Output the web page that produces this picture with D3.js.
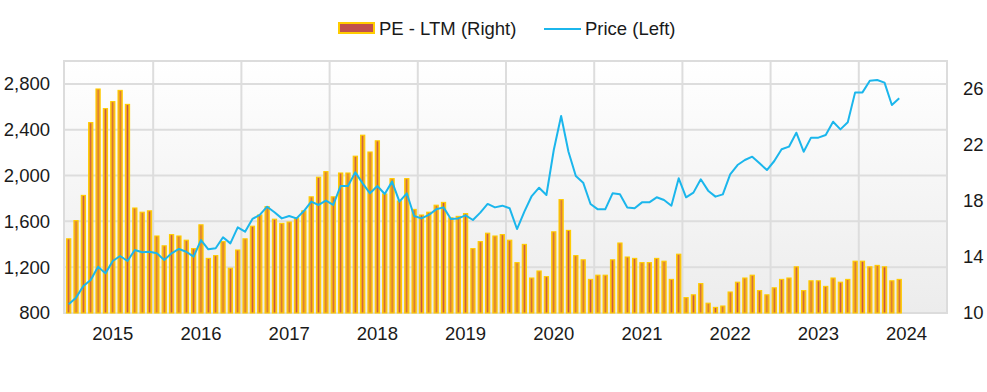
<!DOCTYPE html>
<html><head><meta charset="utf-8">
<script src="https://cdn.jsdelivr.net/npm/d3@7"></script>
<style>
html,body{margin:0;padding:0;background:#fff;}
text{font-family:"Liberation Sans",Arial,sans-serif;}
</style></head>
<body><svg id="chart" width="987" height="392"></svg>
<script>
// ---- data ----
const startMonth = new Date(2014, 6, 1);   // Jul 2014
const endMonth = new Date(2024, 6, 1);     // axis runs to Jun 2024
const yearLabels = ["2015","2016","2017","2018","2019","2020","2021","2022","2023","2024"];
const leftTicks = [800, 1200, 1600, 2000, 2400, 2800];
const rightTicks = [10, 14, 18, 22, 26];
const peLTM = [
 15.3,16.6,18.4,23.6,26.0,24.6,25.1,25.9,24.9,17.5,
 17.2,17.3,15.5,14.8,15.6,15.5,15.2,14.6,16.3,13.9,
 14.1,15.1,13.2,14.5,15.3,16.2,17.0,17.6,16.7,16.4,
 16.5,16.8,17.3,18.3,19.7,20.1,18.3,20.0,20.0,21.2,
 22.7,21.5,22.3,18.5,19.6,18.0,19.6,17.4,17.0,17.2,
 17.7,17.9,16.8,16.9,17.1,14.6,15.1,15.7,15.5,15.6,
 15.2,13.6,14.9,12.5,13.0,12.6,15.8,18.1,15.9,14.1,
 13.8,12.4,12.7,12.7,13.8,15.0,14.0,13.9,13.6,13.6,
 13.9,13.7,12.4,14.2,11.1,11.3,12.1,10.7,10.4,10.5,
 11.5,12.2,12.5,12.7,11.6,11.3,11.8,12.4,12.5,13.3,
 11.6,12.3,12.3,11.9,12.5,12.2,12.4,13.7,13.7,13.3,
 13.4,13.3,12.3,12.4];
const price = [
 876,934,1036,1088,1204,1146,1254,1298,1254,1350,
 1330,1335,1321,1263,1321,1359,1335,1292,1437,1356,
 1365,1461,1408,1548,1510,1621,1656,1728,1680,1626,
 1647,1626,1690,1772,1743,1781,1743,1909,1909,2028,
 1932,1845,1909,1839,1947,1772,1845,1647,1626,1656,
 1705,1722,1621,1626,1652,1612,1676,1752,1722,1737,
 1714,1533,1685,1821,1894,1830,2223,2520,2208,1996,
 1938,1752,1705,1705,1845,1836,1722,1714,1766,1766,
 1810,1786,1737,1976,1810,1851,1967,1868,1816,1836,
 2011,2092,2136,2165,2107,2048,2127,2229,2252,2374,
 2208,2331,2331,2354,2470,2403,2465,2726,2726,2828,
 2834,2811,2616,2674];

// ---- layout ----
const L = 64, R = 947, T = 61, B = 313;
const FS = 18.5;
const svg = d3.select("#chart");
const months = d3.timeMonth.range(startMonth, endMonth);
const key = d => d3.timeFormat("%Y-%m")(d);
const x = d3.scaleBand().domain(months.map(key)).range([L + 1, R]).paddingInner(0).paddingOuter(0);
const yL = d3.scaleLinear().domain([800, 3000]).range([B, T]);
const yR = d3.scaleLinear().domain([10, 28]).range([B, T]);

const defs = svg.append("defs");
const bg = defs.append("linearGradient").attr("id","bg").attr("x1",0).attr("y1",0).attr("x2",0).attr("y2",1);
bg.append("stop").attr("offset","0%").attr("stop-color","#ffffff");
bg.append("stop").attr("offset","100%").attr("stop-color","#ececec");
const barG = defs.append("linearGradient").attr("id","barg").attr("x1",0).attr("y1",0).attr("x2",1).attr("y2",0);
barG.append("stop").attr("offset","0%").attr("stop-color","#f4a81c");
barG.append("stop").attr("offset","35%").attr("stop-color","#eb9d28");
barG.append("stop").attr("offset","50%").attr("stop-color","#c0504d");
barG.append("stop").attr("offset","65%").attr("stop-color","#eb9d28");
barG.append("stop").attr("offset","100%").attr("stop-color","#f4a81c");

// plot background
svg.append("rect").attr("x", L).attr("y", T).attr("width", R - L).attr("height", B - T).attr("fill", "url(#bg)");

// horizontal gridlines (left axis)
svg.append("g").selectAll("line").data(leftTicks.slice(1)).join("line")
  .attr("x1", L).attr("x2", R).attr("y1", d => yL(d)).attr("y2", d => yL(d))
  .attr("stroke", "#dddddd").attr("stroke-width", 2);

// vertical gridlines at year boundaries (between Jun and Jul)
const boundaries = months.filter((d, i) => i > 0 && d.getMonth() === 6);
svg.append("g").selectAll("line").data(boundaries).join("line")
  .attr("x1", d => x(key(d))).attr("x2", d => x(key(d)))
  .attr("y1", T).attr("y2", B)
  .attr("stroke", "#dddddd").attr("stroke-width", 2);

// frame
svg.append("rect").attr("x", L).attr("y", T).attr("width", R - L).attr("height", B - T)
  .attr("fill", "none").attr("stroke", "#dcdcdc").attr("stroke-width", 2);

// bars (right axis)
const bw = 4.2;
svg.append("g").selectAll("rect").data(peLTM).join("rect")
  .attr("x", (d, i) => x(key(months[i])) + x.bandwidth() / 2 - bw / 2)
  .attr("width", bw)
  .attr("y", d => yR(d))
  .attr("height", d => yR(10) - yR(d))
  .attr("fill", "url(#barg)")
  .attr("stroke", "#ffcc00").attr("stroke-width", 1.1);

// price line (left axis)
const line = d3.line()
  .x((d, i) => x(key(months[i])) + x.bandwidth() / 2)
  .y(d => yL(d));
svg.append("path").datum(price).attr("d", line)
  .attr("fill", "none").attr("stroke", "#1bb6ec").attr("stroke-width", 2).attr("stroke-linejoin", "round");

// axes
const fmt = d3.format(",");
const axL = svg.append("g").attr("transform", `translate(${L - 14},0)`)
  .call(d3.axisLeft(yL).tickValues(leftTicks).tickSize(0).tickPadding(0).tickFormat(fmt));
const axR = svg.append("g").attr("transform", `translate(${R + 16},0)`)
  .call(d3.axisRight(yR).tickValues(rightTicks).tickSize(0).tickPadding(0));
const janMonths = months.filter(d => d.getMonth() === 0);
const axX = svg.append("g").attr("transform", `translate(0,${B + 14})`)
  .call(d3.axisBottom(x).tickValues(janMonths.map(key)).tickSize(0).tickPadding(0)
    .tickFormat((d, i) => yearLabels[i]));
[axL, axR, axX].forEach(a => {
  a.select(".domain").remove();
  a.selectAll("text").attr("font-size", FS).attr("fill", "#1a1a1a")
    .attr("font-family", "'Liberation Sans', Arial, sans-serif");
});
axX.selectAll("text").attr("dy", "0.71em");

// legend
const lg = svg.append("g");
lg.append("rect").attr("x", 339).attr("y", 23).attr("width", 35).attr("height", 10)
  .attr("fill", "#c0504d").attr("stroke", "#ffcc00").attr("stroke-width", 2);
lg.append("text").attr("x", 379).attr("y", 35).attr("font-size", FS).attr("fill", "#1a1a1a").text("PE - LTM (Right)");
lg.append("line").attr("x1", 544).attr("x2", 581).attr("y1", 29).attr("y2", 29)
  .attr("stroke", "#1bb6ec").attr("stroke-width", 2);
lg.append("text").attr("x", 585).attr("y", 35).attr("font-size", FS).attr("fill", "#1a1a1a").text("Price (Left)");
</script></body></html>
